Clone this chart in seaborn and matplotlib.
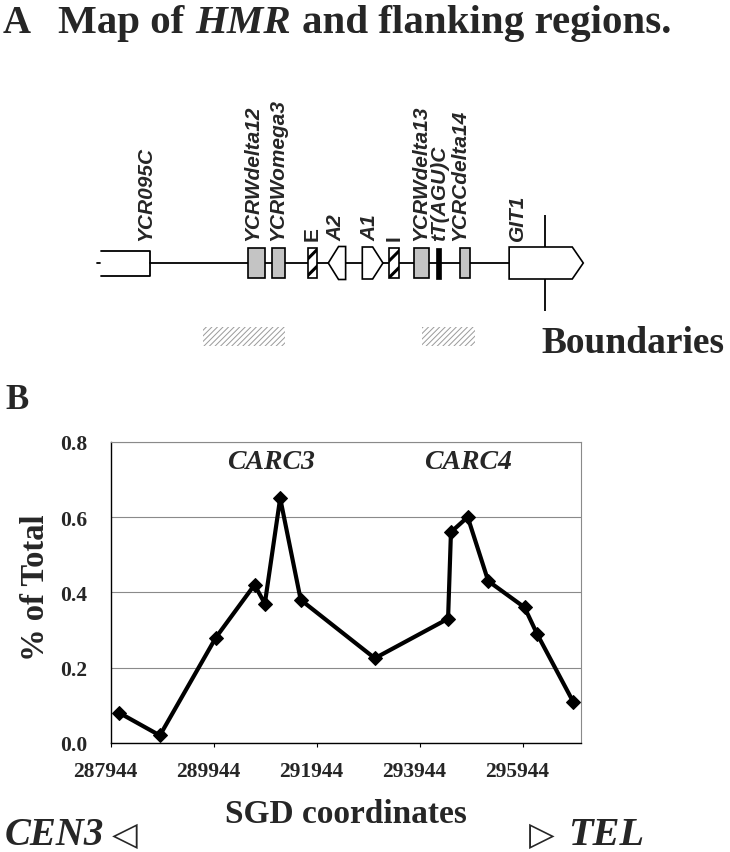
import numpy as np
import pandas as pd
import matplotlib
matplotlib.use("Agg")
import matplotlib.pyplot as plt
import matplotlib.transforms as mtransforms
from matplotlib.patches import Rectangle, Polygon
import seaborn as sns

# ChIP signal along HMR (SGD coordinates vs % of total)
sgd_pos = [288105, 288893, 289981, 290732, 290932, 291230, 291629, 293068,
           294491, 294547, 294872, 295271, 295977, 296218, 296919]
pct_total = [0.08, 0.02, 0.28, 0.42, 0.37, 0.65, 0.38, 0.225,
             0.33, 0.56, 0.60, 0.43, 0.36, 0.29, 0.11]
x_ticks = [287944, 289944, 291944, 293944, 295944]
y_ticks = [0.0, 0.2, 0.4, 0.6, 0.8]

# map of HMR features (SGD coordinates)
feat_names = ['YCR095C', 'YCRWdelta12', 'YCRWomega3', 'E', 'A2', 'A1', 'I',
              'YCRWdelta13', 'tT(AGU)C', 'YCRCdelta14', 'GIT1']
feat_start = [287747, 290607, 291074, 291767, 292164, 292825, 293343,
              293823, 294265, 294718, 295677]
feat_end = [288693, 290930, 291314, 291950, 292501, 293226, 293537,
            294121, 294348, 294913, 297117]
feat_kind = ['open', 'grey', 'grey', 'hatch', 'left', 'right', 'hatch',
             'grey', 'black', 'grey', 'right']
label_pos = [288612, 290700, 291180, 291858, 292320, 292965, 293450,
             293969, 294330, 294710, 295840]
boundary_start = [289726, 293993]
boundary_end = [291314, 295015]
peak_names = ['CARC3', 'CARC4']
peak_pos = [291055, 294885]
x_range = (287944, 297067)

W, H = 730, 853
sns.set_theme(style='white')
plt.rcParams['font.family'] = ['Liberation Serif', 'DejaVu Sans']
fig = plt.figure(figsize=(W / 100, H / 100), dpi=100)

SERIF = ['Liberation Serif', 'DejaVu Sans']


def fx(px):
    return px / W


def fy(py):
    return 1 - py / H


# ---------------- panel B: line plot ----------------
ax = fig.add_axes([fx(111), fy(744), (580.7 - 111) / W, (744 - 442.7) / H])
sns.lineplot(x=sgd_pos, y=pct_total, ax=ax, color='black', linewidth=3,
             marker='D', markersize=7, markeredgecolor='black',
             sort=False, estimator=None, zorder=3)
ax.set_xlim(*x_range)
ax.set_ylim(0, 0.8)
ax.set_xticks(x_ticks)
ax.set_xticklabels([str(v) for v in x_ticks])
ax.set_yticks(y_ticks)
ax.set_yticklabels([f'{v:.1f}' for v in y_ticks])
ax.yaxis.grid(True, color='#8a8a8a', linewidth=0.8)
ax.set_axisbelow(True)
for s in ['left', 'bottom']:
    ax.spines[s].set_color('black')
    ax.spines[s].set_linewidth(1.0)
for s in ['top', 'right']:
    ax.spines[s].set_color('#8a8a8a')
    ax.spines[s].set_linewidth(0.8)
ax.tick_params(axis='x', length=3, width=0.8, pad=10, bottom=True,
               labelsize=15.5, color='black')
ax.tick_params(axis='y', length=0, pad=17, labelsize=15.5)
for lab in ax.get_xticklabels() + ax.get_yticklabels():
    lab.set_fontweight('bold')
    lab.set_family(SERIF)
shift = mtransforms.ScaledTranslation(-6 / 100, 0, fig.dpi_scale_trans)
for lab in ax.get_xticklabels():
    lab.set_transform(lab.get_transform() + shift)

for name, pos in zip(peak_names, peak_pos):
    ax.text(pos, 0.747, name, ha='center', va='center', fontsize=20,
            fontweight='bold', fontstyle='italic', family=SERIF)

fig.text(fx(36), fy(588), '% of Total', rotation=90, ha='center', va='center',
         fontsize=23.5, fontweight='bold', family=SERIF)
fig.text(fx(346), fy(823), 'SGD coordinates', ha='center', va='baseline',
         fontsize=24, fontweight='bold', family=SERIF)
fig.text(fx(5), fy(845), 'CEN3', ha='left', va='baseline', fontsize=28,
         fontweight='bold', fontstyle='italic', family=SERIF)
fig.text(fx(112), fy(845), '\u25c1', ha='left', va='baseline', fontsize=24,
         family=['DejaVu Sans'])
fig.text(fx(529), fy(845), '\u25b7', ha='left', va='baseline', fontsize=24,
         family=['DejaVu Sans'])
fig.text(fx(568), fy(845), 'TEL', ha='left', va='baseline', fontsize=29,
         fontweight='bold', fontstyle='italic', family=SERIF)
fig.text(fx(5), fy(409), 'B', ha='left', va='baseline', fontsize=25,
         fontweight='bold', family=SERIF)

# ---------------- panel A: map ----------------
mx = fig.add_axes([fx(111), fy(380), (580.7 - 111) / W, (380 - 60) / H])
mx.set_xlim(*x_range)
mx.set_ylim(380, 60)
mx.axis('off')

yc = 264
half = {'open': 12.5, 'grey': 15, 'hatch': 15, 'left': 16.5,
        'right': 16, 'black': 15.5}
head = 200

# backbone and small left tick
mx.plot([feat_end[0], feat_start[-1]], [yc, yc], color='black', lw=1.3,
        zorder=1, clip_on=False)
mx.plot([feat_start[0] - 70, feat_start[0] - 25], [yc, yc], color='black',
        lw=1.3, zorder=1, clip_on=False)
mx.vlines(296372, 216, 312, color='black', lw=1.3, zorder=1, clip_on=False)

for name, s, e, k, lp in zip(feat_names, feat_start, feat_end, feat_kind,
                             label_pos):
    h = half[k]
    if k == 'open':
        mx.plot([s, e, e, s], [yc - h, yc - h, yc + h, yc + h],
                color='black', lw=1.3, zorder=2, clip_on=False)
    elif k == 'left':
        pts = [(s, yc), (s + head, yc - h), (e, yc - h), (e, yc + h),
               (s + head, yc + h)]
        mx.add_patch(Polygon(pts, closed=True, facecolor='white',
                             edgecolor='black', lw=1.2, zorder=2,
                             clip_on=False))
    elif k == 'right':
        hd = head if e - s < 1000 else 214
        pts = [(s, yc - h), (e - hd, yc - h), (e, yc), (e - hd, yc + h),
               (s, yc + h)]
        mx.add_patch(Polygon(pts, closed=True, facecolor='white',
                             edgecolor='black', lw=1.2, zorder=2,
                             clip_on=False))
    elif k == 'grey':
        mx.add_patch(Rectangle((s, yc - h), e - s, 2 * h, facecolor='#c4c4c4',
                               edgecolor='black', lw=1.2, zorder=2,
                               clip_on=False))
    elif k == 'hatch':
        r = Rectangle((s, yc - h), e - s, 2 * h, facecolor='white',
                      edgecolor='black', lw=1.2, hatch='//', zorder=2,
                      clip_on=False)
        try:
            r.set_hatch_linewidth(2.2)
        except AttributeError:
            pass
        mx.add_patch(r)
    elif k == 'black':
        mx.add_patch(Rectangle((s, yc - h), e - s, 2 * h, facecolor='black',
                               edgecolor='black', lw=0.5, zorder=2,
                               clip_on=False))
    upright = name in ('E', 'I')
    mx.text(lp, 241, name, rotation=90, ha='center', va='bottom',
            fontsize=15, fontweight='bold',
            fontstyle='normal' if upright else 'italic',
            family=['Liberation Sans', 'DejaVu Sans'], clip_on=False)

for s, e in zip(boundary_start, boundary_end):
    r = Rectangle((s, 328), e - s, 19, facecolor='white', edgecolor='#9a9a9a',
                  lw=0, hatch='//////', zorder=2, clip_on=False)
    try:
        r.set_hatch_linewidth(0.7)
    except AttributeError:
        pass
    mx.add_patch(r)

fig.text(fx(541), fy(353), 'Boundaries', ha='left', va='baseline',
         fontsize=27, fontweight='bold', family=SERIF)

# title with italic gene locus
fig.text(fx(3), fy(33), 'A', ha='left', va='baseline', fontsize=28,
         fontweight='bold', family=SERIF)
renderer = fig.canvas.get_renderer()
runs = [('Map of', 'normal'), ('HMR', 'italic'),
        ('and flanking regions.', 'normal')]
xpos = 58
for txt, style in runs:
    t = fig.text(fx(xpos), fy(33), txt, ha='left', va='baseline',
                 fontsize=29.5, fontweight='bold', fontstyle=style,
                 family=SERIF)
    bb = t.get_window_extent(renderer)
    xpos = bb.x1 + 11

fig.savefig('out.png', dpi=100)
